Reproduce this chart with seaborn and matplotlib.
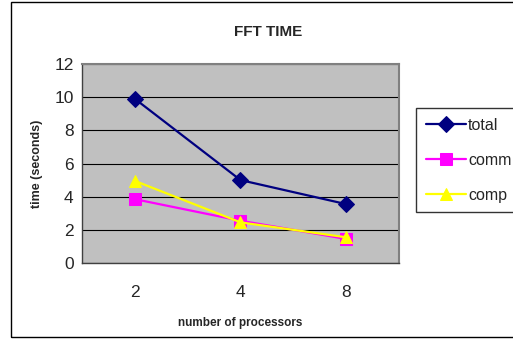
import matplotlib
matplotlib.use("Agg")
import matplotlib.pyplot as plt
import seaborn as sns
import pandas as pd
from matplotlib.patches import Rectangle

categories = ["2", "4", "8"]
total = [9.9, 5.0, 3.55]
comm = [3.85, 2.55, 1.45]
comp = [4.95, 2.45, 1.55]
series_names = ["total", "comm", "comp"]
yticks = [0, 2, 4, 6, 8, 10, 12]

sns.set_style("white")
plt.rcParams["font.family"] = ["Liberation Sans", "DejaVu Sans"]

fig = plt.figure(figsize=(5.13, 3.39), dpi=100)
ax = fig.add_axes([82/513, 1-263/339, (399-82)/513, (263-64)/339])
ax.set_facecolor("#C0C0C0")

xpos = list(range(len(categories)))
styles = {
    "total": dict(color="#000080", marker="D", markersize=8),
    "comm": dict(color="#FF00FF", marker="s", markersize=8),
    "comp": dict(color="#FFFF00", marker="^", markersize=9),
}
data = {"total": total, "comm": comm, "comp": comp}
for name in series_names:
    st = styles[name]
    df = pd.DataFrame({"x": xpos, "y": data[name]})
    sns.lineplot(data=df, x="x", y="y", ax=ax, color=st["color"], marker=st["marker"],
                 markersize=st["markersize"], markeredgecolor=st["color"],
                 linewidth=1.6, label=name, legend=False)

ax.set_xlim(-0.5, 2.5)
ax.set_ylim(0, 12)
ax.set_yticks(yticks)
ax.set_yticklabels([str(v) for v in yticks], fontsize=12.5)
ax.yaxis.grid(True, color="black", linewidth=0.8)
ax.set_axisbelow(True)
ax.set_xticks([-0.5, 0.5, 1.5, 2.5])
ax.set_xticklabels([])
ax.set_xticks(xpos, minor=True)
ax.set_xticklabels(categories, minor=True, fontsize=12.5)
ax.tick_params(axis="x", which="major", direction="out", length=5, width=1, color="#404040")
ax.tick_params(axis="x", which="minor", length=0, pad=16)
ax.tick_params(axis="y", direction="out", length=4, width=1, color="#404040", pad=2)
for s in ["top", "right"]:
    ax.spines[s].set_color("#808080")
    ax.spines[s].set_linewidth(1.5)
for s in ["left", "bottom"]:
    ax.spines[s].set_color("#404040")
    ax.spines[s].set_linewidth(1.0)

ax.set_xlabel("number of processors", fontsize=8.5, fontweight="bold", labelpad=12)
ax.set_ylabel("time (seconds)", fontsize=9, fontweight="bold", labelpad=8)
fig.text(268/513, 1-32/339, "FFT TIME", ha="center", va="center", fontsize=11,
         fontweight="bold")

handles, labels = ax.get_legend_handles_labels()
leg = fig.legend(handles, labels, loc="upper left", bbox_to_anchor=(416/513, 1-108/339),
                 frameon=True, fancybox=False, edgecolor="black", facecolor="white",
                 prop={"size": 11.5}, handlelength=2.5, handletextpad=0.15,
                 labelspacing=1.25, borderpad=0.6, borderaxespad=0)
leg.get_frame().set_linewidth(1.0)

fig.patches.append(Rectangle((11/513, 2/339), 1.0, 1-4/339, transform=fig.transFigure,
                             fill=False, edgecolor="black", linewidth=1.0))

fig.savefig("out.png", dpi=100)
